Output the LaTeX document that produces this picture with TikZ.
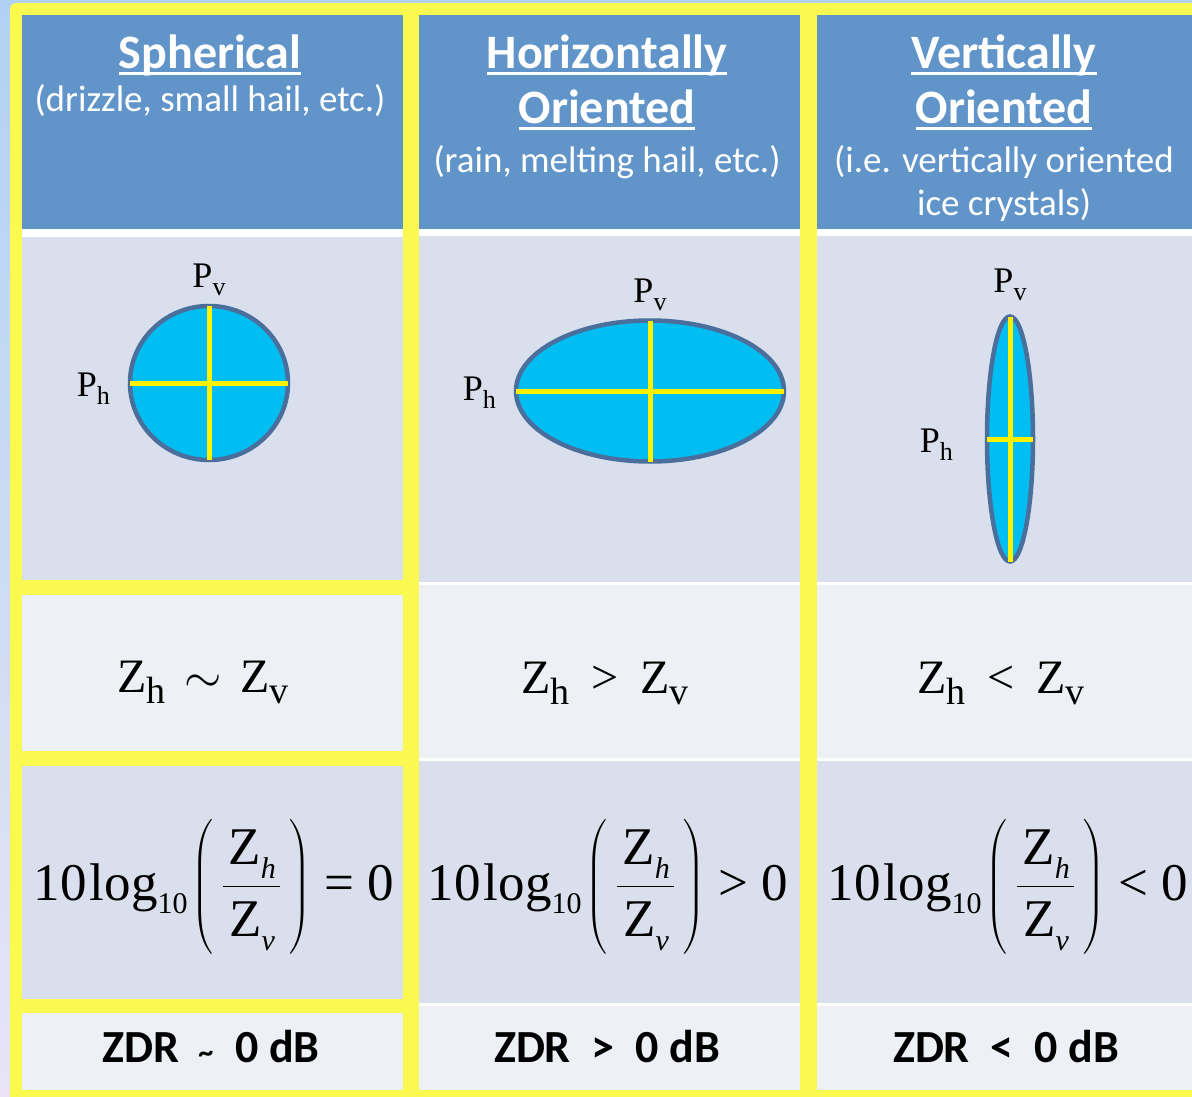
\RequirePackage{fix-cm}
\documentclass[tikz,border=0pt]{standalone}
\usepackage{amsmath}
\usepackage{fontspec}
\setmainfont{Liberation Serif}
\newfontfamily\calibfont{Carlito}
\usetikzlibrary{shapes.geometric,positioning}

\definecolor{hdrblue}{RGB}{97,149,201}
\definecolor{celldark}{RGB}{217,223,236}
\definecolor{celllight}{RGB}{237,240,245}
\definecolor{frameyellow}{RGB}{250,249,80}
\definecolor{dropfill}{RGB}{0,190,242}
\definecolor{dropedge}{RGB}{74,111,156}
\definecolor{bgtop}{RGB}{176,210,242}
\definecolor{bgbottom}{RGB}{232,228,245}

\newcommand{\ulhead}[1]{\setbox0=\hbox{#1}\rlap{\rule[-6pt]{\wd0}{3pt}}\box0}
\newcommand{\psub}[1]{\raisebox{-8pt}{\fontsize{26}{26}\selectfont #1}}
\newcommand{\zsub}[1]{\raisebox{-11pt}{\fontsize{38}{38}\selectfont #1}}
\newcommand{\fsub}[1]{\raisebox{-14pt}{\fontsize{30}{30}\selectfont\itshape #1}}
\newcommand{\zdrlog}[1]{10\hspace{3pt}log\raisebox{-13pt}{\fontsize{30}{30}\selectfont 10}\hspace{4pt}$\left(\mkern3mu\dfrac{\text{\hspace{5pt}Z\fsub{h}\hspace{4pt}}}{\text{\hspace{5pt}Z\fsub{v}\hspace{4pt}}}\mkern3mu\right)$\hspace{13pt}#1\hspace{13pt}0}

\begin{document}
\begin{tikzpicture}[x=1pt, y=-1pt,
  hdr/.style={fill=hdrblue},
  darkcell/.style={fill=celldark},
  lightcell/.style={fill=celllight},
  title/.style={font={\calibfont\bfseries\fontsize{48}{48}\selectfont}, text=white, inner sep=0pt, anchor=base},
  subtitle/.style={font={\calibfont\fontsize{37}{37}\selectfont}, text=white, inner sep=0pt, anchor=base},
  drop/.style={ellipse, draw=dropedge, line width=4.5pt, fill=dropfill, inner sep=0pt, outer sep=0pt},
  axis/.style={draw=yellow, line width=5pt},
  plabel/.style={font={\fontsize{36}{36}\selectfont}, inner sep=0pt},
  zrel/.style={font={\fontsize{48}{48}\selectfont}, inner sep=0pt, anchor=base},
  formula/.style={font={\fontsize{53}{53}\selectfont}, inner sep=0pt, anchor=base},
  zdr/.style={font={\calibfont\bfseries\fontsize{46}{46}\selectfont}, inner sep=0pt, anchor=base}
]
\useasboundingbox (0,0) rectangle (1192,1097);

% background and frame
\fill[top color=bgtop, bottom color=bgbottom] (0,0) rectangle (1192,1097);
\fill[frameyellow, rounded corners=6pt] (10,3) rectangle (1215,1115);
\fill[white] (22,229) rectangle (403,237);
\fill[white] (419,15) rectangle (800,1090);
\fill[white] (817,15) rectangle (1192,1090);

% spherical column
\fill[hdr] (22,15) rectangle (403,229);
\fill[darkcell] (22,237) rectangle (403,580);
\fill[lightcell] (22,595) rectangle (403,751);
\fill[darkcell] (22,766) rectangle (403,999);
\fill[lightcell] (22,1013) rectangle (403,1090);

% oriented columns
\foreach \xa/\xb in {419/800, 817/1192} {
  \fill[hdr] (\xa,15) rectangle (\xb,229);
  \fill[darkcell] (\xa,236) rectangle (\xb,582);
  \fill[lightcell] (\xa,585) rectangle (\xb,758);
  \fill[darkcell] (\xa,761) rectangle (\xb,1003);
  \fill[lightcell] (\xa,1006) rectangle (\xb,1090);
}

% headers
\node[title] (sphtitle) at (210,69) {\ulhead{Spherical}};
\node[subtitle] (sphsub) at (210,112) {(drizzle, small hail, etc.)};
\node[title] (hortitle) at (607,69) {\ulhead{Horizontally}};
\node[title] (hortitleb) at (607,124) {\ulhead{Oriented}};
\node[subtitle] (horsub) at (607,172) {(rain, melting hail, etc.)};
\node[title] (vertitle) at (1004,69) {\ulhead{Vertically}};
\node[title] (vertitleb) at (1004,124) {\ulhead{Oriented}};
\node[subtitle] (versub) at (1004,172) {(i.e. vertically oriented};
\node[subtitle] (versubb) at (1004,215) {ice crystals)};

% drops
\node[drop, minimum width=158pt, minimum height=154pt] (sph) at (209,383) {};
\draw[axis] (sph.west) -- (sph.east);
\draw[axis] (sph.north) -- (sph.south);
\node[plabel, above=10pt of sph] (sphv) {P\psub{v}};
\node[plabel, left=20pt of sph, yshift=-6pt] (sphh) {P\psub{h}};

\node[drop, minimum width=268pt, minimum height=141pt] (hor) at (650,391) {};
\draw[axis] (hor.west) -- (hor.east);
\draw[axis] (hor.north) -- (hor.south);
\node[plabel, above=10pt of hor] (horv) {P\psub{v}};
\node[plabel, left=20pt of hor, yshift=-2pt] (horh) {P\psub{h}};

\node[drop, minimum width=46pt, minimum height=245pt] (ver) at (1010,439) {};
\draw[axis] (ver.west) -- (ver.east);
\draw[axis] (ver.north) -- (ver.south);
\node[plabel, above=16pt of ver] (verv) {P\psub{v}};
\node[plabel, left=34pt of ver, yshift=-6pt] (verh) {P\psub{h}};

% reflectivities
\node[zrel] (sphz) at (203,692) {Z\zsub{h}\hspace{19pt}$\sim$\hspace{19pt}Z\zsub{v}};
\node[zrel] (horz) at (605,693) {Z\zsub{h}\hspace{22pt}>\hspace{22pt}Z\zsub{v}};
\node[zrel] (verz) at (1001,693) {Z\zsub{h}\hspace{22pt}<\hspace{22pt}Z\zsub{v}};

\node[formula] (sphlog) at (214,900) {\zdrlog{=}};
\node[formula] (horlog) at (608,900) {\zdrlog{>}};
\node[formula] (verlog) at (1008,900) {\zdrlog{<}};

\node[zdr] (sphzdr) at (211,1062) {ZDR\hspace{19pt}{\fontsize{30}{30}\selectfont\textasciitilde}\hspace{22pt}0 dB};
\node[zdr] (horzdr) at (607,1062) {ZDR\hspace{21pt}>\hspace{21pt}0 dB};
\node[zdr] (verzdr) at (1006,1062) {ZDR\hspace{21pt}<\hspace{21pt}0 dB};

\end{tikzpicture}
\end{document}
